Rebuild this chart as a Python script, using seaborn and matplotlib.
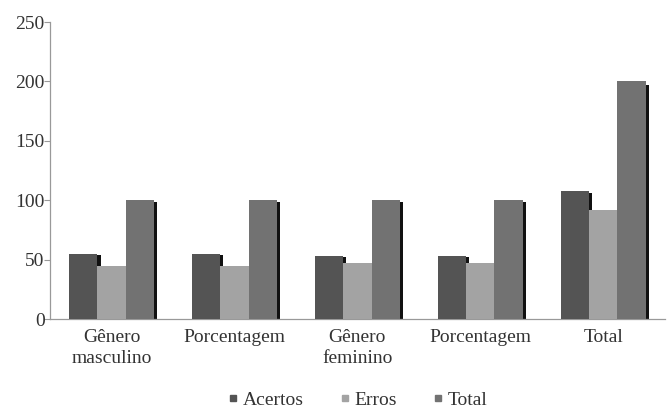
import matplotlib
matplotlib.use("Agg")
import matplotlib.pyplot as plt
from matplotlib.patches import Rectangle
from matplotlib.lines import Line2D
import seaborn as sns
import pandas as pd

categorias = ["Gênero\nmasculino", "Porcentagem", "Gênero\nfeminino", "Porcentagem", "Total"]
series = ["Acertos", "Erros", "Total"]
acertos = [55, 55, 53, 53, 108]
erros = [45, 45, 47, 47, 92]
total = [100, 100, 100, 100, 200]
cores = ["#545454", "#a3a3a3", "#727272"]

registros = []
for i in range(len(categorias)):
    for nome, vals in zip(series, [acertos, erros, total]):
        registros.append({"grupo": i, "serie": nome, "valor": vals[i]})
df = pd.DataFrame(registros)

sns.set_style("white")
plt.rcParams["font.family"] = ["Liberation Serif", "DejaVu Serif"]

fig = plt.figure(figsize=(6.68, 4.08), dpi=100)
ax = fig.add_axes([0.075, 0.218, 0.92, 0.728])

sns.barplot(data=df, x="grupo", y="valor", hue="serie", hue_order=series,
            palette=cores, width=0.69, gap=0, saturation=1, errorbar=None,
            legend=False, ax=ax, zorder=3, linewidth=0, edgecolor="none")

# dark side face on each bar for a slight depth effect
for p in ax.patches[:]:
    x0, w, h = p.get_x(), p.get_width(), p.get_height()
    ax.add_patch(Rectangle((x0 + w, 0), w * 0.11, h * 0.985,
                           facecolor="#111111", edgecolor="none", zorder=2))

ax.set_ylim(0, 250)
ax.set_xlim(-0.5, len(categorias) - 0.5)
ax.set_yticks([0, 50, 100, 150, 200, 250])
ax.set_xticks(range(len(categorias)))
ax.set_xticklabels(categorias, fontsize=14, color="#333333", linespacing=1.35)
ax.tick_params(axis="y", labelsize=14, labelcolor="#333333", color="#999999",
               length=4, width=0.8, direction="out", left=True, pad=0)
ax.tick_params(axis="x", length=0, pad=7)
ax.set_xlabel("")
ax.set_ylabel("")
for s in ["top", "right"]:
    ax.spines[s].set_visible(False)
for s in ["left", "bottom"]:
    ax.spines[s].set_color("#999999")
    ax.spines[s].set_linewidth(0.9)

handles = [Line2D([], [], marker="s", linestyle="none", markersize=5,
                  markerfacecolor=c, markeredgecolor=c) for c in cores]
fig.legend(handles, series, loc="center", bbox_to_anchor=(0.535, 0.02),
           ncol=3, frameon=False, fontsize=14, handlelength=0.6,
           handletextpad=0.2, columnspacing=1.8, labelcolor="#333333")

fig.savefig("out.png", dpi=100)
